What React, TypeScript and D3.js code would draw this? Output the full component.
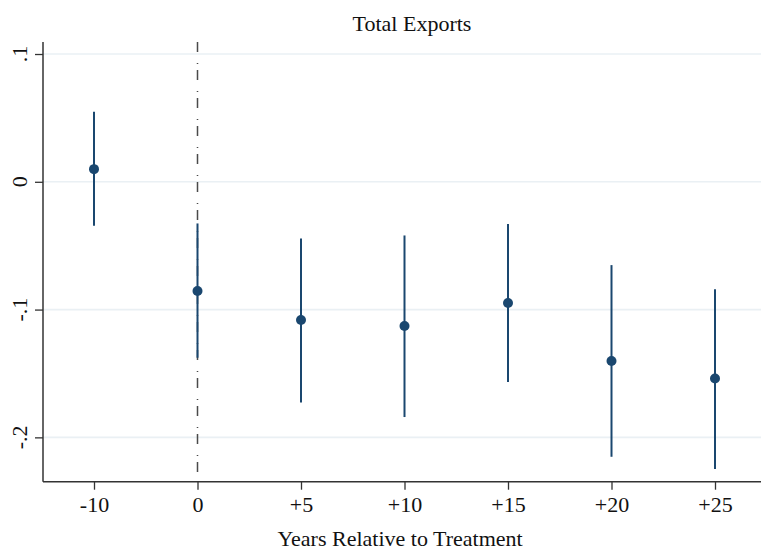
import { useRef, useEffect } from 'react';
import * as d3 from 'd3';

const periods = ['-10', '0', '+5', '+10', '+15', '+20', '+25'];
const estimates = [0.0099, -0.0855, -0.1082, -0.1129, -0.0949, -0.1402, -0.1539];
const ciLower = [-0.0344, -0.1377, -0.1727, -0.1841, -0.1567, -0.2152, -0.2248];
const ciUpper = [0.0548, -0.0326, -0.0444, -0.042, -0.0331, -0.0652, -0.084];
const yTicks = [0.1, 0, -0.1, -0.2];
const yTickLabels = ['.1', '0', '-.1', '-.2'];
const treatmentPeriod = '0';

const W = 761;
const H = 551;
const navy = '#1a476f';
const font = '"Liberation Serif", "Times New Roman", serif';
const fontSize = 22;

function App() {
    const svgRef = useRef<SVGSVGElement>(null);

    useEffect(() => {
        const svg = d3.select(svgRef.current);
        svg.selectAll('*').remove();

        const left = 43, right = 781, top = 42, bottom = 481.7;

        const x = d3.scalePoint<string>().domain(periods).range([94, 715]);
        const y = d3.scaleLinear().domain([-0.2347, 0.1094]).range([bottom, top]);

        // gridlines
        svg.append('g')
            .selectAll('line')
            .data(yTicks)
            .enter()
            .append('line')
            .attr('x1', left)
            .attr('x2', right)
            .attr('y1', d => y(d))
            .attr('y2', d => y(d))
            .attr('stroke', '#eaf0f4')
            .attr('stroke-width', 1.6);

        // treatment line
        svg.append('line')
            .attr('x1', x(treatmentPeriod)!)
            .attr('x2', x(treatmentPeriod)!)
            .attr('y1', top)
            .attr('y2', bottom)
            .attr('stroke', '#4a4a4a')
            .attr('stroke-width', 1.5)
            .attr('stroke-dasharray', '10,11,1,6');

        // confidence intervals
        svg.append('g')
            .selectAll('line')
            .data(periods)
            .enter()
            .append('line')
            .attr('x1', d => x(d)!)
            .attr('x2', d => x(d)!)
            .attr('y1', (_, i) => y(ciUpper[i]))
            .attr('y2', (_, i) => y(ciLower[i]))
            .attr('stroke', navy)
            .attr('stroke-width', 2);

        // point estimates
        svg.append('g')
            .selectAll('circle')
            .data(periods)
            .enter()
            .append('circle')
            .attr('cx', d => x(d)!)
            .attr('cy', (_, i) => y(estimates[i]))
            .attr('r', 5)
            .attr('fill', navy);

        // y axis
        const yAxis = svg.append('g')
            .attr('transform', `translate(${left},0)`)
            .call(d3.axisLeft(y).tickValues(yTicks).tickSize(8).tickFormat(() => ''));
        yAxis.select('.domain').attr('stroke', '#333').attr('stroke-width', 1.5)
            .attr('d', `M0,${top}V${bottom}`);
        yAxis.selectAll('.tick line').attr('stroke', '#333').attr('stroke-width', 1.3);

        svg.append('g')
            .selectAll('text')
            .data(yTicks)
            .enter()
            .append('text')
            .attr('transform', d => `translate(27,${y(d)}) rotate(-90)`)
            .attr('text-anchor', 'middle')
            .attr('font-family', font)
            .attr('font-size', fontSize)
            .attr('fill', '#111')
            .text((_, i) => yTickLabels[i]);

        // x axis
        const xAxis = svg.append('g')
            .attr('transform', `translate(0,${bottom})`)
            .call(d3.axisBottom(x).tickSize(8).tickPadding(7));
        xAxis.select('.domain').attr('stroke', '#333').attr('stroke-width', 1.5)
            .attr('d', `M${left},0H${right}`);
        xAxis.selectAll('.tick line').attr('stroke', '#333').attr('stroke-width', 1.3);
        xAxis.selectAll('.tick text')
            .attr('font-family', font)
            .attr('font-size', fontSize)
            .attr('fill', '#111');

        // titles
        svg.append('text')
            .attr('x', 412)
            .attr('y', 31)
            .attr('text-anchor', 'middle')
            .attr('font-family', font)
            .attr('font-size', fontSize)
            .attr('fill', '#111')
            .text('Total Exports');

        svg.append('text')
            .attr('x', 400)
            .attr('y', 546)
            .attr('text-anchor', 'middle')
            .attr('font-family', font)
            .attr('font-size', fontSize)
            .attr('fill', '#111')
            .text('Years Relative to Treatment');
    }, []);

    return (
        <svg
            ref={svgRef}
            width={W}
            height={H}
            style={{ position: 'absolute', left: 0, top: 0, background: '#fff' }}
        />
    );
}

export default App;
